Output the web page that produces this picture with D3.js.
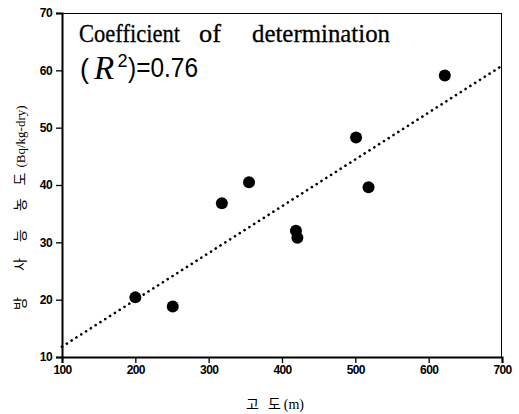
<!DOCTYPE html>
<html>
<head>
<meta charset="utf-8">
<script src="https://cdn.jsdelivr.net/npm/d3@7"></script>
<style>
  body { margin: 0; background: #fff; }
  svg { display: block; }
  .serif { font-family: "Liberation Serif", "DejaVu Serif", serif; }
  .sans { font-family: "Liberation Sans", "DejaVu Sans", sans-serif; }
  .kr { font-family: "Noto Sans CJK KR", sans-serif; }
</style>
</head>
<body>
<div id="chart"></div>
<script>
// altitude (m) vs radioactivity concentration (Bq/kg-dry)
var altitude = [200, 251, 318, 355, 419, 421, 501, 518, 622];
var activity = [20.4, 18.8, 36.8, 40.5, 32.0, 30.8, 48.3, 39.6, 59.1];
// fitted line, read at the two ends of the x axis
var fitX = [100, 700];
var fitY = [11.8, 60.8];
var xTicks = [100, 200, 300, 400, 500, 600, 700];
var yTicks = [10, 20, 30, 40, 50, 60, 70];

var W = 519, H = 414, margin = { top: 13, right: 17, bottom: 57, left: 62 };
var width = W - margin.left - margin.right, height = H - margin.top - margin.bottom;

var svg = d3.select('#chart').append('svg')
    .attr('width', W)
    .attr('height', H);
var g = svg.append('g')
    .attr('transform', 'translate(' + margin.left + ',' + margin.top + ')');

var x = d3.scaleLinear().domain([100, 700]).range([0, width]);
var y = d3.scaleLinear().domain([10, 70]).range([height, 0]);

// thin frame on top and right
g.append('line').attr('x1', 0).attr('x2', width).attr('y1', 0.5).attr('y2', 0.5)
    .attr('stroke', '#000').attr('stroke-width', 1);
g.append('line').attr('x1', width - 0.5).attr('x2', width - 0.5).attr('y1', 0).attr('y2', height)
    .attr('stroke', '#000').attr('stroke-width', 1);

var xAxis = g.append('g')
    .attr('transform', 'translate(0,' + height + ')')
    .call(d3.axisBottom(x).tickValues(xTicks).tickSize(6).tickPadding(2).tickFormat(d3.format('d')));
var yAxis = g.append('g')
    .call(d3.axisLeft(y).tickValues(yTicks).tickSize(6).tickPadding(4).tickFormat(d3.format('d')));

[xAxis, yAxis].forEach(function (a) {
    a.attr('font-family', null).attr('font-size', null);
    a.select('.domain').attr('stroke-width', 2);
    a.selectAll('.tick line').attr('stroke-width', 1.3);
    a.selectAll('.tick text')
        .classed('sans', true)
        .style('font-weight', 'bold')
        .style('font-size', '12px')
        .style('letter-spacing', '-0.6px')
        .attr('fill', '#000');
});

// dotted regression line
g.append('path')
    .datum(d3.zip(fitX, fitY))
    .attr('d', d3.line().x(function (d) { return x(d[0]); }).y(function (d) { return y(d[1]); }))
    .attr('fill', 'none')
    .attr('stroke', '#000')
    .attr('stroke-width', 2.6)
    .attr('stroke-linecap', 'round')
    .attr('stroke-dasharray', '0.1,5.6');

g.selectAll('.pt')
    .data(d3.zip(altitude, activity))
    .enter().append('circle')
    .classed('pt', true)
    .attr('cx', function (d) { return x(d[0]); })
    .attr('cy', function (d) { return y(d[1]); })
    .attr('r', 6)
    .attr('fill', '#000');

// annotation
var words = [['Coefficient', 79, 101], ['of', 199, 22], ['determination', 252, 138]];
svg.selectAll('.word')
    .data(words)
    .enter().append('text')
    .attr('class', 'word serif')
    .attr('x', function (d) { return d[1]; })
    .attr('y', 42)
    .attr('textLength', function (d) { return d[2]; })
    .attr('lengthAdjust', 'spacingAndGlyphs')
    .style('font-size', '26px')
    .attr('stroke', '#000')
    .attr('stroke-width', 0.3)
    .text(function (d) { return d[0]; });

svg.append('text').attr('class', 'sans').attr('x', 80).attr('y', 78)
    .style('font-size', '27px').text('(');
svg.append('text').attr('class', 'serif').attr('x', 94).attr('y', 79)
    .style('font-style', 'italic').style('font-size', '33px').text('R');
svg.append('text').attr('class', 'sans').attr('x', 117.5).attr('y', 67)
    .style('font-size', '18px').text('2');
svg.append('text').attr('class', 'sans').attr('x', 128).attr('y', 77)
    .attr('textLength', 70).attr('lengthAdjust', 'spacingAndGlyphs')
    .style('font-size', '27px').text(')=0.76');

// axis titles
var xl = svg.append('text').attr('class', 'kr')
    .attr('x', 246).attr('y', 409)
    .style('font-size', '14px');
xl.append('tspan').text('고');
xl.append('tspan').attr('dx', 9).text('도');
xl.append('tspan').attr('dx', 3).attr('class', 'serif').style('font-size', '14px').text('(m)');

var yl = svg.append('text').attr('class', 'kr')
    .attr('transform', 'translate(25,310) rotate(-90)')
    .style('font-size', '14px');
yl.append('tspan').text('방');
yl.append('tspan').attr('dx', 26).text('사');
yl.append('tspan').attr('dx', 16).text('능');
yl.append('tspan').attr('dx', 18).text('농');
yl.append('tspan').attr('dx', 13).text('도');
yl.append('tspan').attr('dx', 5).attr('class', 'serif').style('font-size', '13px').text('(Bq/kg-dry)');
</script>
</body>
</html>
